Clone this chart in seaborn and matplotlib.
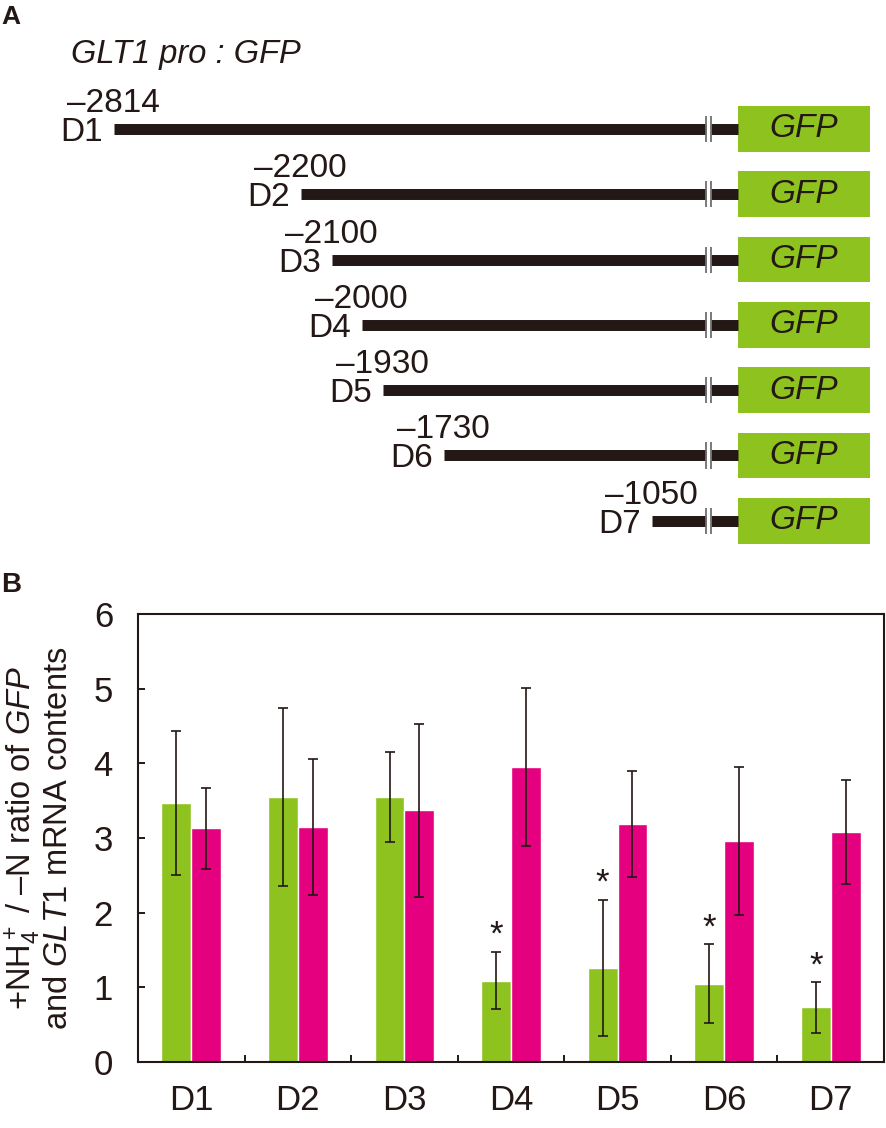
import numpy as np
import pandas as pd
import seaborn as sns
import matplotlib.pyplot as plt
from matplotlib.patches import Rectangle

# promoter deletion constructs (panel A)
constructs = ["D1", "D2", "D3", "D4", "D5", "D6", "D7"]
start_bp = [-2814, -2200, -2100, -2000, -1930, -1730, -1050]
start_labels = ["\u20132814", "\u20132200", "\u20132100", "\u20132000",
                "\u20131930", "\u20131730", "\u20131050"]

# +NH4+ / -N ratio (panel B)
gfp_mean = [3.47, 3.55, 3.55, 1.09, 1.26, 1.05, 0.73]
gfp_err = [0.96, 1.19, 0.60, 0.385, 0.915, 0.525, 0.335]
glt1_mean = [3.13, 3.15, 3.37, 3.95, 3.19, 2.96, 3.08]
glt1_err = [0.54, 0.91, 1.16, 1.055, 0.71, 0.99, 0.70]
significant = [False, False, False, True, True, True, True]

GREEN = "#8DC21F"
MAGENTA = "#E4007F"
DARK = "#231815"

sns.set_theme(style="white")
plt.rcParams["font.family"] = ["Liberation Sans", "DejaVu Sans"]
plt.rcParams["mathtext.fontset"] = "custom"
plt.rcParams["mathtext.rm"] = "Liberation Sans"
plt.rcParams["mathtext.it"] = "Liberation Sans:italic"

fig = plt.figure(figsize=(8.86, 11.28), dpi=100)
W, H = 886, 1128

# ---------------- panel A: schematic ----------------
axa = fig.add_axes([0, 1 - 580 / H, 1, 580 / H])
axa.set_axis_off()
axa.set_xlim(-3188, -281)
axa.set_ylim(6.9066, -1.9755)

break_l, break_r = -872, -854   # gap in the promoter line
gfp_l, gfp_r = -767, -334       # GFP reporter box

for i, (name, s, lab) in enumerate(zip(constructs, start_bp, start_labels)):
    axa.hlines(i, s, break_l, color=DARK, lw=7.9, capstyle="butt")
    axa.hlines(i, break_r, gfp_l, color=DARK, lw=7.9, capstyle="butt")
    axa.vlines([break_l, break_r], i - 0.2, i + 0.2, color="#6e6e6e", lw=1.3)
    axa.add_patch(Rectangle((gfp_l, i - 0.35), gfp_r - gfp_l, 0.70,
                            facecolor=GREEN, edgecolor="none"))
    axa.text((gfp_l + gfp_r) / 2, i, "GFP", style="italic", fontsize=24,
             ha="center", va="center", color=DARK)
    axa.annotate(name, (s, i), xytext=(-11, -12), textcoords="offset pixels",
                 ha="right", va="baseline", fontsize=24, color=DARK)
    axa.annotate(lab, (s, i), xytext=(-47, 17), textcoords="offset pixels",
                 ha="left", va="baseline", fontsize=24, color=DARK)

fig.text(71 / W, 1 - 63 / H, "GLT1 pro : GFP", style="italic", fontsize=23.5,
         ha="left", va="baseline", color=DARK)
fig.text(1 / W, 1 - 24 / H, "A", weight="bold", fontsize=19,
         ha="left", va="baseline", color=DARK)
fig.text(1 / W, 1 - 592 / H, "B", weight="bold", fontsize=20,
         ha="left", va="baseline", color=DARK)

# ---------------- panel B: bar chart ----------------
axb = fig.add_axes([138 / W, 1 - 1062 / H, 746 / W, 448 / H])
df = pd.DataFrame({
    "construct": constructs * 2,
    "gene": ["GFP"] * 7 + ["GLT1"] * 7,
    "ratio": gfp_mean + glt1_mean,
})
sns.barplot(data=df, x="construct", y="ratio", hue="gene",
            palette=[GREEN, MAGENTA], width=0.56, errorbar=None,
            saturation=1, legend=False, ax=axb)

for k, (cont, err) in enumerate(zip(axb.containers, [gfp_err, glt1_err])):
    xs = [p.get_x() + p.get_width() / 2 for p in cont.patches]
    ys = [p.get_height() for p in cont.patches]
    axb.errorbar(xs, ys, yerr=err, fmt="none", ecolor=DARK, elinewidth=1.2,
                 capsize=3.6, capthick=1.2)
    if k == 0:
        for x, y, e, sig in zip(xs, ys, err, significant):
            if sig:
                axb.annotate("*", (x, y + e), xytext=(0, 0),
                             textcoords="offset pixels", ha="center",
                             va="bottom", fontsize=25, color=DARK)

axb.set_xlim(-0.5, 6.5)
axb.set_ylim(0, 6)
axb.set_yticks(range(7))
axb.set_xticks(np.arange(0.5, 6, 1), minor=True)
axb.tick_params(axis="x", which="major", length=0, pad=16, labelsize=25,
                labelcolor=DARK)
axb.tick_params(axis="x", which="minor", direction="in", length=5,
                width=1.4, color=DARK, bottom=True)
axb.tick_params(axis="y", direction="in", length=5, width=1.4, color=DARK,
                left=True, pad=18, labelsize=25, labelcolor=DARK)
for sp in axb.spines.values():
    sp.set_color(DARK)
    sp.set_linewidth(1.5)
axb.set_xlabel("")
axb.set_ylabel("+NH$_4^+$ / \u2013N ratio of $\\mathit{GFP}$\n"
               "and $\\mathit{GLT1}$ mRNA contents",
               fontsize=23.5, color=DARK, linespacing=1.0)
axb.yaxis.set_label_coords(-0.086, 0.5)

fig.savefig("out.png", dpi=100)
